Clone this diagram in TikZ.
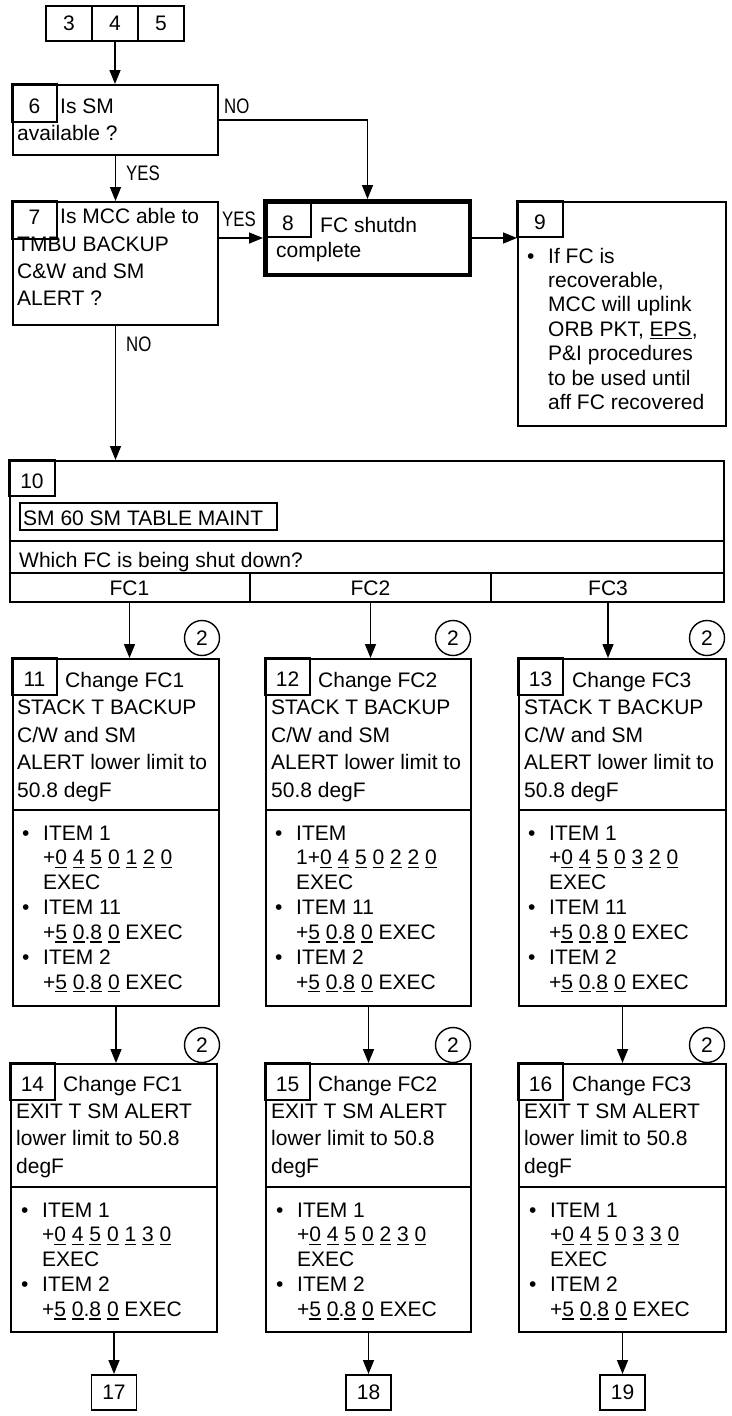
\documentclass[tikz,border=0pt]{standalone}
\usepackage{fontspec}
\setmainfont{Liberation Sans}
\usepackage{graphicx}
\usetikzlibrary{arrows.meta}
\newcommand\uln[1]{\setbox0=\hbox{#1}\rlap{\rule[-3pt]{\wd0}{1.2pt}}\box0\relax}
\newcommand\bul{\makebox[21pt][l]{•}}
\newcommand\indt{\hspace*{21pt}}
\newcommand\lbl[1]{\scalebox{0.8}[1]{#1}}
\tikzset{
  box/.style={draw, line width=2pt, inner sep=0pt, anchor=north west},
  numbox/.style={draw, line width=1.3pt, inner sep=0pt, outer sep=0pt, anchor=north west,
    minimum width=45pt, minimum height=37pt, text height=20pt, text depth=0pt},
  txt/.style={inner sep=0pt, anchor=base west, align=left},
  bulls/.style={txt, font=\fontsize{21}{24.9}\selectfont},
  lab/.style={inner sep=0pt, anchor=base west},
  circ/.style={draw, circle, line width=1.4pt, inner sep=0pt, minimum size=35pt},
  arr/.style={line width=1.5pt, -{Triangle[length=14pt,width=11pt]}},
  divline/.style={line width=2pt},
  exitbox/.style={draw, line width=1.6pt, inner sep=0pt, anchor=north, minimum width=45pt, minimum height=35pt},
}
\begin{document}
\begin{tikzpicture}[x=1pt,y=-1pt,font=\fontsize{21}{27.4}\selectfont]
\fill[white] (0,0) rectangle (731,1416);
\useasboundingbox (0,0) rectangle (731,1416);

% top entry boxes
\node[box, minimum width=46pt, minimum height=35pt] (n3) at (45,5) {3};
\node[box, minimum width=46pt, minimum height=35pt] (n4) at (91,5) {4};
\node[box, minimum width=46pt, minimum height=35pt] (n5) at (137,5) {5};

% box 6
\node[box, minimum width=205pt, minimum height=70pt] (b6) at (12,84) {};
\node[numbox, minimum height=38pt] (n6) at (12,84) {6};
\node[txt] (t6a) at (60,113) {Is SM};
\node[txt] (t6b) at (17,140) {available ?};

% box 7
\node[box, minimum width=205pt, minimum height=123pt] (b7) at (12,201) {};
\node[numbox, minimum height=38pt, text height=8pt] (n7) at (12,201) {7};
\node[txt] (t7a) at (60,223) {Is MCC able to};
\node[txt, font=\fontsize{21}{27.3}\selectfont] (t7b) at (17,305.6) {TMBU BACKUP\\C\&W and SM\\ALERT ?};

% box 8
\node[box, line width=4.5pt, minimum width=204.5pt, minimum height=73.5pt] (b8) at (263,199) {};
\node[numbox, minimum width=46pt, minimum height=36pt, text height=23pt] (n8) at (265,201) {8};
\node[txt] (t8a) at (320,232) {FC shutdn};
\node[txt] (t8b) at (276,257) {complete};

% box 9
\node[box, minimum width=208pt, minimum height=224pt] (b9) at (517,201) {};
\node[numbox, minimum width=46pt, minimum height=36pt] (n9) at (517,201) {9};
\node[txt, font=\fontsize{21}{24.4}\selectfont] (t9) at (527,409.4)
  {\bul If FC is\\\indt recoverable,\\\indt MCC will uplink\\\indt ORB PKT, \uln{EPS},\\\indt P\&I procedures\\\indt to be used until\\\indt aff FC recovered};

% labels
\node[lab] (lno1) at (224,113) {\lbl{NO}};
\node[lab] (lyes1) at (126,180) {\lbl{YES}};
\node[lab] (lyes2) at (222,226) {\lbl{YES}};
\node[lab] (lno2) at (126,351) {\lbl{NO}};

% box 10
\node[box, minimum width=714pt, minimum height=141pt] (b10) at (9,460) {};
\node[numbox, minimum width=46pt, minimum height=36pt] (n10) at (9,460) {10};
\node[draw, line width=1.8pt, inner sep=0pt, anchor=north west, minimum width=257pt, minimum height=27pt] (sm60) at (19,502) {};
\node[txt] (t10a) at (23,525) {SM 60 SM TABLE MAINT};
\draw[divline] (9,541) -- (725,541);
\node[txt] (t10b) at (19,567) {Which FC is being shut down?};
\draw[divline] (9,573) -- (725,573);
\draw[divline] (250,573) -- (250,603);
\draw[divline] (491,573) -- (491,603);
\node[inner sep=0pt, anchor=base] (fc1) at (129.5,595) {FC1};
\node[inner sep=0pt, anchor=base] (fc2) at (370.5,595) {FC2};
\node[inner sep=0pt, anchor=base] (fc3) at (608,595) {FC3};

% boxes 11-13
\node[box, minimum width=206pt, minimum height=347pt] (b11) at (12,658) {};
\node[box, minimum width=205pt, minimum height=347pt] (b12) at (265,658) {};
\node[box, minimum width=207pt, minimum height=347pt] (b13) at (518,658) {};
\node[numbox] (n11) at (12,658) {11};
\node[numbox] (n12) at (265,658) {12};
\node[numbox] (n13) at (518,658) {13};
\node[txt] (t11a) at (65,687) {Change FC1};
\node[txt] (t12a) at (318,687) {Change FC2};
\node[txt] (t13a) at (572,687) {Change FC3};
\node[txt, font=\fontsize{21}{27.5}\selectfont] (t11b) at (17,797) {STACK T BACKUP\\C/W and SM\\ALERT lower limit to\\50.8 degF};
\node[txt, font=\fontsize{21}{27.5}\selectfont] (t12b) at (271,797) {STACK T BACKUP\\C/W and SM\\ALERT lower limit to\\50.8 degF};
\node[txt, font=\fontsize{21}{27.5}\selectfont] (t13b) at (524,797) {STACK T BACKUP\\C/W and SM\\ALERT lower limit to\\50.8 degF};
\draw[divline] (12,810) -- (220,810);
\draw[divline] (265,810) -- (472,810);
\draw[divline] (518,810) -- (727,810);
\node[bulls] (t11c) at (22,989.4) {\bul ITEM 1\\\indt +\uln{0} \uln{4} \uln{5} \uln{0} \uln{1} \uln{2} \uln{0}\\\indt EXEC\\\bul ITEM 11\\\indt +\uln{5} \uln{0}.\uln{8} \uln{0} EXEC\\\bul ITEM 2\\\indt +\uln{5} \uln{0}.\uln{8} \uln{0} EXEC};
\node[bulls] (t12c) at (275,989.4) {\bul ITEM\\\indt 1+\uln{0} \uln{4} \uln{5} \uln{0} \uln{2} \uln{2} \uln{0}\\\indt EXEC\\\bul ITEM 11\\\indt +\uln{5} \uln{0}.\uln{8} \uln{0} EXEC\\\bul ITEM 2\\\indt +\uln{5} \uln{0}.\uln{8} \uln{0} EXEC};
\node[bulls] (t13c) at (528,989.4) {\bul ITEM 1\\\indt +\uln{0} \uln{4} \uln{5} \uln{0} \uln{3} \uln{2} \uln{0}\\\indt EXEC\\\bul ITEM 11\\\indt +\uln{5} \uln{0}.\uln{8} \uln{0} EXEC\\\bul ITEM 2\\\indt +\uln{5} \uln{0}.\uln{8} \uln{0} EXEC};
\node[circ] (c11) at (202,638) {2};
\node[circ] (c12) at (453,638) {2};
\node[circ] (c13) at (707,638) {2};

% boxes 14-16
\node[box, minimum width=206pt, minimum height=268pt] (b14) at (10,1063) {};
\node[box, minimum width=205pt, minimum height=268pt] (b15) at (265,1063) {};
\node[box, minimum width=207pt, minimum height=268pt] (b16) at (518,1063) {};
\node[numbox] (n14) at (10,1063) {14};
\node[numbox] (n15) at (265,1063) {15};
\node[numbox] (n16) at (518,1063) {16};
\node[txt] (t14a) at (63,1091) {Change FC1};
\node[txt] (t15a) at (318,1091) {Change FC2};
\node[txt] (t16a) at (572,1091) {Change FC3};
\node[txt, font=\fontsize{21}{27.4}\selectfont] (t14b) at (16,1173.3) {EXIT T SM ALERT\\lower limit to 50.8\\degF};
\node[txt, font=\fontsize{21}{27.4}\selectfont] (t15b) at (271,1173.3) {EXIT T SM ALERT\\lower limit to 50.8\\degF};
\node[txt, font=\fontsize{21}{27.4}\selectfont] (t16b) at (524,1173.3) {EXIT T SM ALERT\\lower limit to 50.8\\degF};
\draw[divline] (10,1187) -- (218,1187);
\draw[divline] (265,1187) -- (472,1187);
\draw[divline] (518,1187) -- (727,1187);
\node[bulls] (t14c) at (21,1316.6) {\bul ITEM 1\\\indt +\uln{0} \uln{4} \uln{5} \uln{0} \uln{1} \uln{3} \uln{0}\\\indt EXEC\\\bul ITEM 2\\\indt +\uln{5} \uln{0}.\uln{8} \uln{0} EXEC};
\node[bulls] (t15c) at (276,1316.6) {\bul ITEM 1\\\indt +\uln{0} \uln{4} \uln{5} \uln{0} \uln{2} \uln{3} \uln{0}\\\indt EXEC\\\bul ITEM 2\\\indt +\uln{5} \uln{0}.\uln{8} \uln{0} EXEC};
\node[bulls] (t16c) at (529,1316.6) {\bul ITEM 1\\\indt +\uln{0} \uln{4} \uln{5} \uln{0} \uln{3} \uln{3} \uln{0}\\\indt EXEC\\\bul ITEM 2\\\indt +\uln{5} \uln{0}.\uln{8} \uln{0} EXEC};
\node[circ] (c14) at (202,1045) {2};
\node[circ] (c15) at (453,1045) {2};
\node[circ] (c16) at (707,1045) {2};

% exit boxes
\node[exitbox] (b17) at (114,1374) {17};
\node[exitbox] (b18) at (368.5,1374) {18};
\node[exitbox] (b19) at (622.5,1374) {19};

% connectors
\draw[arr] (n4.south) -- (n4.south |- b6.north);
\draw[arr] (b6.south) -- (b6.south |- b7.north);
\draw[arr] (b6.east) -| (b8.north);
\draw[arr] (b7.east |- b8.west) -- (b8.west);
\draw[arr] (b8.east) -- (b8.east -| b9.west);
\draw[arr] (b7.south) -- (b7.south |- b10.north);
\draw[arr] (fc1 |- b10.south) -- (fc1 |- b11.north);
\draw[arr] (fc2 |- b10.south) -- (fc2 |- b12.north);
\draw[arr] (fc3 |- b10.south) -- (fc3 |- b13.north);
\draw[arr] (b11.south) -- (b11.south |- b14.north);
\draw[arr] (b12.south) -- (b12.south |- b15.north);
\draw[arr] (b13.south) -- (b13.south |- b16.north);
\draw[arr] (b14.south) -- (b14.south |- b17.north);
\draw[arr] (b15.south) -- (b15.south |- b18.north);
\draw[arr] (b16.south) -- (b16.south |- b19.north);
\end{tikzpicture}
\end{document}
